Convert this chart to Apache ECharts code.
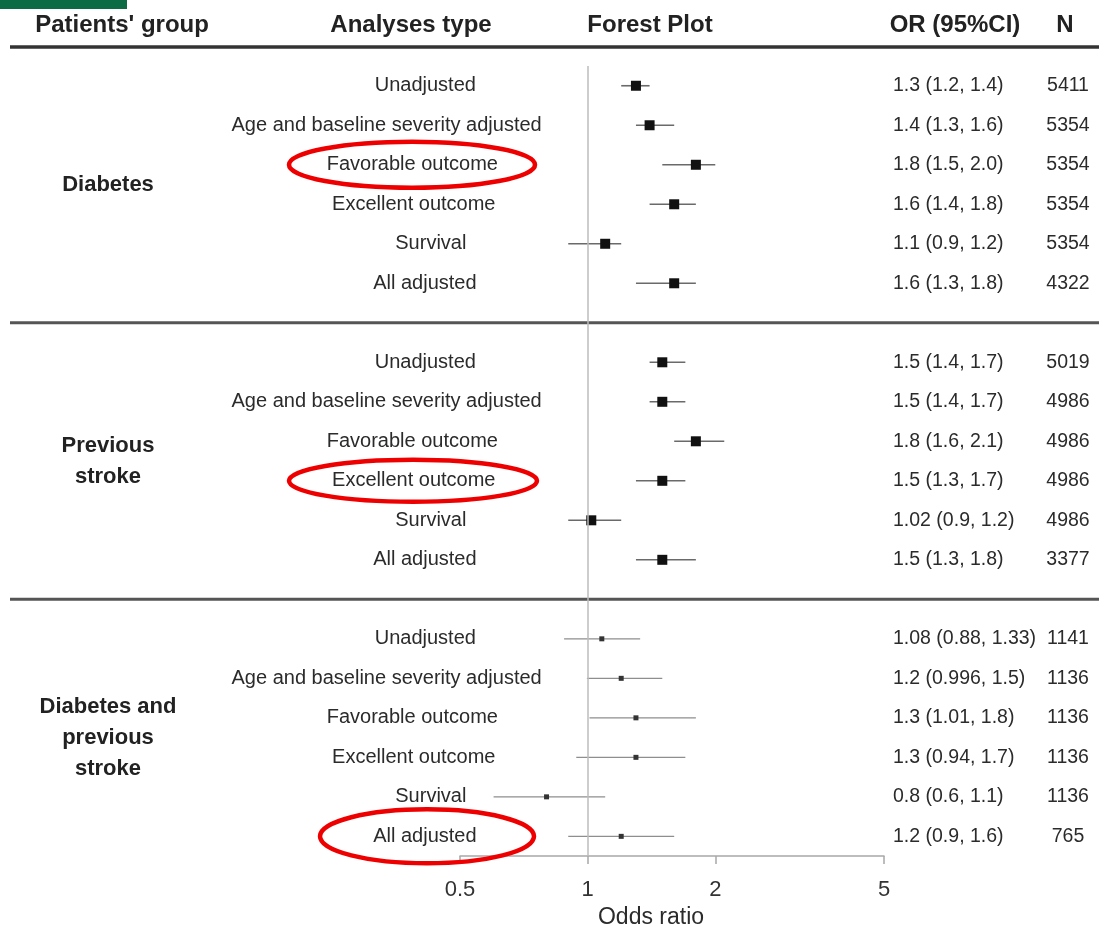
<!DOCTYPE html>
<html>
<head>
<meta charset="utf-8">
<script src="https://cdn.jsdelivr.net/npm/echarts@6/dist/echarts.min.js"></script>
<style>
  html, body { margin: 0; padding: 0; background: #fff; }
  #chart { width: 1099px; height: 934px; }
</style>
</head>
<body>
<div id="chart"></div>
<script>
// Subgroup forest plot: odds ratios with 95% CI per patients' group and analysis type
const analysisTypes = [
  'Unadjusted',
  'Age and baseline severity adjusted',
  'Favorable outcome',
  'Excellent outcome',
  'Survival',
  'All adjusted'
];
const groupNames = ['Diabetes', 'Previous\nstroke', 'Diabetes and\nprevious\nstroke'];

// values kept as printed so the table text and the marks share them
const diabetesOR    = ['1.3', '1.4', '1.8', '1.6', '1.1', '1.6'];
const diabetesLower = ['1.2', '1.3', '1.5', '1.4', '0.9', '1.3'];
const diabetesUpper = ['1.4', '1.6', '2.0', '1.8', '1.2', '1.8'];
const diabetesN     = ['5411', '5354', '5354', '5354', '5354', '4322'];

const strokeOR    = ['1.5', '1.5', '1.8', '1.5', '1.02', '1.5'];
const strokeLower = ['1.4', '1.4', '1.6', '1.3', '0.9', '1.3'];
const strokeUpper = ['1.7', '1.7', '2.1', '1.7', '1.2', '1.8'];
const strokeN     = ['5019', '4986', '4986', '4986', '4986', '3377'];

const bothOR    = ['1.08', '1.2', '1.3', '1.3', '0.8', '1.2'];
const bothLower = ['0.88', '0.996', '1.01', '0.94', '0.6', '0.9'];
const bothUpper = ['1.33', '1.5', '1.8', '1.7', '1.1', '1.6'];
const bothN     = ['1141', '1136', '1136', '1136', '1136', '765'];

const oddsRatioTicks = [0.5, 1, 2, 5];
const headerLabels = ["Patients' group", 'Analyses type', 'Forest Plot', 'OR (95%CI)', 'N'];

// highlighted rows: [group index, analysis index]
const highlighted = [[0, 2], [1, 3], [2, 5]];

const groupData = [
  { or: diabetesOR, lo: diabetesLower, hi: diabetesUpper, n: diabetesN },
  { or: strokeOR, lo: strokeLower, hi: strokeUpper, n: strokeN },
  { or: bothOR, lo: bothLower, hi: bothUpper, n: bothN }
];

// one slot per row, with an empty slot between groups
const slots = [];
groupData.forEach((g, gi) => {
  analysisTypes.forEach((a, ai) => slots.push({ g: gi, a: ai }));
  if (gi < groupData.length - 1) slots.push(null);
});
const slotKeys = slots.map((s, i) => 'row' + i);
const slotIndex = (gi, ai) => slots.findIndex(s => s && s.g === gi && s.a === ai);

const seriesData = [];
slots.forEach((s, i) => {
  if (!s) return;
  const d = groupData[s.g];
  seriesData.push([i, parseFloat(d.or[s.a]), parseFloat(d.lo[s.a]), parseFloat(d.hi[s.a]), s.g]);
});

const textColor = '#2b2b2b';
const font = 'Arial, "Liberation Sans", sans-serif';

// analysis-type labels hang from a shared anchor: each starts at
// labelAnchor - labelAnchorFrac * width
const labelFontSize = 20;
const labelStartX = 200;
const labelAnchor = 444;
const labelAnchorFrac = 0.685;
const measureCtx = document.createElement('canvas').getContext('2d');
measureCtx.font = labelFontSize + 'px ' + font;
const labelRich = {};
analysisTypes.forEach((t, i) => {
  const w = measureCtx.measureText(t).width;
  const pad = Math.max(0, labelAnchor - labelAnchorFrac * w - labelStartX);
  labelRich['a' + i] = { fontSize: labelFontSize, color: textColor, padding: [0, 0, 0, pad] };
});

const chart = echarts.init(document.getElementById('chart'), null, { renderer: 'canvas' });

const gridLeft = 460, gridRight = 884;

chart.setOption({
  backgroundColor: '#ffffff',
  animation: false,
  textStyle: { fontFamily: font },
  grid: { left: gridLeft, width: gridRight - gridLeft, top: 66, height: 793 },
  xAxis: {
    type: 'log',
    logBase: 10,
    min: 0.5,
    max: 5,
    name: 'Odds ratio',
    nameLocation: 'middle',
    nameGap: 49,
    nameTextStyle: { fontSize: 23, color: textColor, padding: [0, 42, 0, 0] },
    axisLine: { show: true, lineStyle: { color: '#a8a8a8', width: 1.5 } },
    axisTick: { show: true, length: 8, lineStyle: { color: '#a8a8a8', width: 1.5 }, customValues: oddsRatioTicks },
    axisLabel: {
      fontSize: 22, color: '#333', margin: 23,
      customValues: oddsRatioTicks,
      formatter: v => String(+v.toPrecision(6))
    },
    splitLine: { show: false },
    minorTick: { show: false },
    minorSplitLine: { show: false }
  },
  yAxis: [
    {
      type: 'category', data: slotKeys, inverse: true, position: 'left',
      axisLine: { show: false }, axisTick: { show: false }, splitLine: { show: false },
      axisLabel: {
        interval: 0, align: 'left', margin: gridLeft - labelStartX,
        fontSize: labelFontSize, color: textColor,
        rich: labelRich,
        formatter: (v, i) => slots[i] ? '{a' + slots[i].a + '|' + analysisTypes[slots[i].a] + '}' : ''
      }
    },
    {
      type: 'category', data: slotKeys, inverse: true, position: 'right',
      axisLine: { show: false }, axisTick: { show: false }, splitLine: { show: false },
      axisLabel: {
        interval: 0, align: 'left', margin: 9, fontSize: 19.5, color: textColor,
        formatter: (v, i) => {
          const s = slots[i];
          if (!s) return '';
          const d = groupData[s.g];
          return d.or[s.a] + ' (' + d.lo[s.a] + ', ' + d.hi[s.a] + ')';
        }
      }
    },
    {
      type: 'category', data: slotKeys, inverse: true, position: 'right',
      axisLine: { show: false }, axisTick: { show: false }, splitLine: { show: false },
      axisLabel: {
        interval: 0, align: 'center', margin: 184, fontSize: 19.5, color: textColor,
        formatter: (v, i) => slots[i] ? groupData[slots[i].g].n[slots[i].a] : ''
      }
    }
  ],
  series: [{
    type: 'custom',
    xAxisIndex: 0,
    yAxisIndex: 0,
    data: seriesData,
    encode: { x: [1, 2, 3], y: 0 },
    renderItem: (params, api) => {
      const row = api.value(0);
      const g = api.value(4);
      const p = api.coord([api.value(1), row]);
      const pLo = api.coord([api.value(2), row]);
      const pHi = api.coord([api.value(3), row]);
      const big = g < 2;
      const s = big ? 10 : 5;
      return {
        type: 'group',
        children: [
          {
            type: 'line',
            shape: { x1: pLo[0], y1: pLo[1], x2: pHi[0], y2: pHi[1] },
            style: { stroke: big ? '#6a6a6a' : '#8e8e8e', lineWidth: big ? 1.6 : 1.3 }
          },
          {
            type: 'rect',
            shape: { x: p[0] - s / 2, y: p[1] - s / 2, width: s, height: s },
            style: { fill: big ? '#111' : '#333' }
          }
        ]
      };
    },
    markLine: {
      silent: true,
      symbol: 'none',
      label: { show: false },
      lineStyle: { color: '#bdbdbd', width: 1.5, type: 'solid' },
      data: [{ xAxis: 1 }]
    },
    z: 3
  }]
});

// header, separators, group names and highlight rings placed from the row scale
const rowY = i => chart.convertToPixel({ yAxisIndex: 0 }, i);
const headerX = [122, 411, 650, 955, 1065];
const graphics = [];

graphics.push({ type: 'rect', shape: { x: 0, y: 0, width: 127, height: 9 }, style: { fill: '#0b6b45' } });

headerLabels.forEach((t, i) => {
  graphics.push({
    type: 'text', x: headerX[i], y: 25,
    style: { text: t, font: 'bold 24px ' + font, fill: '#222', align: 'center', verticalAlign: 'middle' }
  });
});

graphics.push({
  type: 'line', shape: { x1: 10, y1: 47, x2: 1099, y2: 47 },
  style: { stroke: '#333', lineWidth: 3.5 }
});

slots.forEach((s, i) => {
  if (s) return;
  const y = rowY(i);
  graphics.push({
    type: 'line', shape: { x1: 10, y1: y, x2: 1099, y2: y },
    style: { stroke: '#555', lineWidth: 3 }
  });
});

groupNames.forEach((name, gi) => {
  const y = (rowY(slotIndex(gi, 2)) + rowY(slotIndex(gi, 3))) / 2;
  graphics.push({
    type: 'text', x: 108, y: y,
    style: {
      text: name, font: 'bold 22px ' + font, fill: '#222',
      align: 'center', verticalAlign: 'middle', lineHeight: 31
    }
  });
});

const ringSize = [[412, 123, 23], [413, 124, 21], [427, 107, 27]];
highlighted.forEach(([gi, ai], k) => {
  const y = rowY(slotIndex(gi, ai));
  graphics.push({
    type: 'ellipse', z: 100,
    shape: { cx: ringSize[k][0], cy: y, rx: ringSize[k][1], ry: ringSize[k][2] },
    style: { fill: 'none', stroke: '#ee0000', lineWidth: 4.5 }
  });
});

chart.setOption({ graphic: { elements: graphics } });
</script>
</body>
</html>
